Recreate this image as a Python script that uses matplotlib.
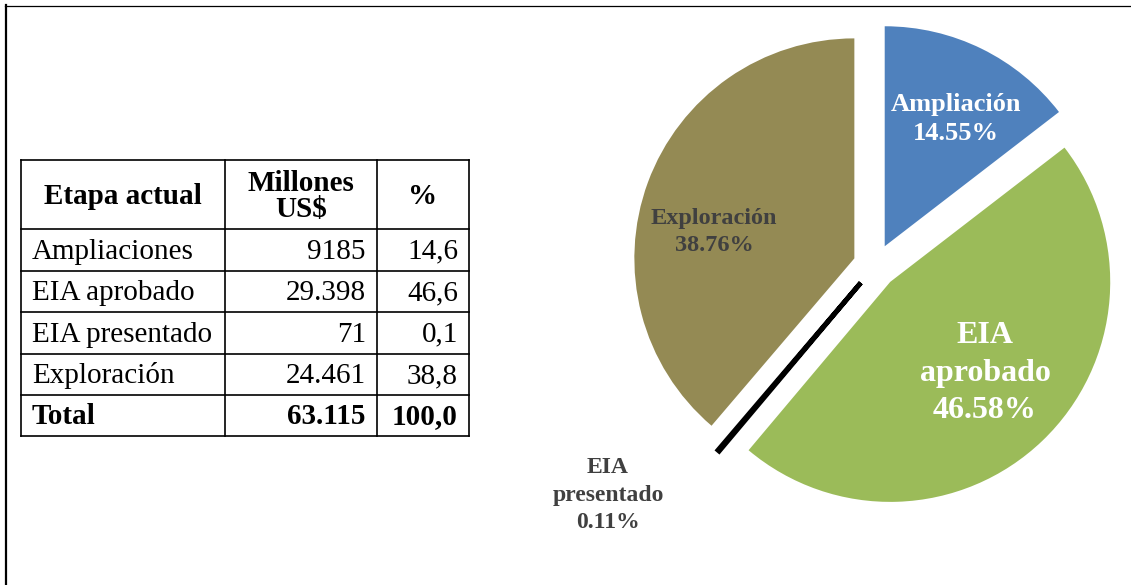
import numpy as np
import matplotlib.pyplot as plt

plt.rcParams['font.family'] = ['Liberation Serif', 'DejaVu Serif']

# datos de la tabla
encabezado = ['Etapa actual', 'Millones\nUS$', '%']
etapas = ['Ampliaciones', 'EIA aprobado', 'EIA presentado', 'Exploración']
millones = [9185, 29398, 71, 24461]
millones_txt = ['9185', '29.398', '71', '24.461']
porcentaje_txt = ['14,6', '46,6', '0,1', '38,8']
total_txt = ['Total', '63.115', '100,0']

# datos del grafico de torta
pie_nombres = ['Ampliación', 'EIA\naprobado', 'EIA\npresentado', 'Exploración']
colores = ['#4F81BD', '#9BBB59', '#000000', '#948A54']

W, H = 1131, 585
fig = plt.figure(figsize=(W / 100, H / 100), dpi=100)

# ---- torta ----
R = 220.0
cx, cy = 875, 266
ax = fig.add_axes([0, 0, 1, 1])
wedges, _ = ax.pie(millones, colors=colores, startangle=90, counterclock=False,
                   explode=[0.1] * 4, radius=1)
wedges[2].set_edgecolor('black')
wedges[2].set_linewidth(3.5)
ax.set_xlim(-cx / R, (W - cx) / R)
ax.set_ylim(-(H - cy) / R, cy / R)
ax.set_aspect('auto')
ax.axis('off')

pct = np.array(millones) / sum(millones) * 100
# posiciones de las etiquetas en pixeles
lab_pos = [(956, 119), (985, 373), (608, 495), (714, 232)]
lab_color = ['white', 'white', '#404040', '#404040']
lab_size = [19, 23, 17, 17.5]
lab_ls = [1.32, 1.38, 1.42, 1.4]
for nombre, p, (px, py), c, s, ls in zip(pie_nombres, pct, lab_pos, lab_color, lab_size, lab_ls):
    ax.text((px - cx) / R, (cy - py) / R, f'{nombre}\n{p:.2f}%', ha='center', va='center',
            color=c, fontsize=s, fontweight='bold', linespacing=ls)

# ---- tabla ----
tab = fig.add_axes([0, 0, 1, 1])
tab.set_xlim(0, W)
tab.set_ylim(H, 0)
tab.axis('off')

# marco de la figura
tab.plot([6, 6], [5, H], color='black', lw=1.6)
tab.plot([5, W], [5.5, 5.5], color='black', lw=0.9)

col_x = [21, 225, 377, 469]
row_y = [160, 229, 270.5, 312, 353.5, 395, 436]
for y in row_y:
    tab.plot([col_x[0], col_x[-1]], [y, y], color='black', lw=1.2)
for x in col_x:
    tab.plot([x, x], [row_y[0], row_y[-1]], color='black', lw=1.2)

fs = 21
for i, h in enumerate(encabezado):
    tab.text((col_x[i] + col_x[i + 1]) / 2, (row_y[0] + row_y[1]) / 2 + 2, h,
             ha='center', va='center', fontsize=fs, fontweight='bold', linespacing=0.95)

filas = list(zip(etapas, millones_txt, porcentaje_txt)) + [tuple(total_txt)]
for j, fila in enumerate(filas):
    yb = (row_y[j + 1] + row_y[j + 2]) / 2 + 9
    peso = 'bold' if j == len(filas) - 1 else 'normal'
    tab.text(col_x[0] + 11, yb, fila[0], ha='left', va='baseline', fontsize=fs, fontweight=peso)
    tab.text(col_x[2] - 11, yb, fila[1], ha='right', va='baseline', fontsize=fs, fontweight=peso)
    tab.text(col_x[3] - 11, yb, fila[2], ha='right', va='baseline', fontsize=fs, fontweight=peso)

fig.savefig('out.png', dpi=100)
